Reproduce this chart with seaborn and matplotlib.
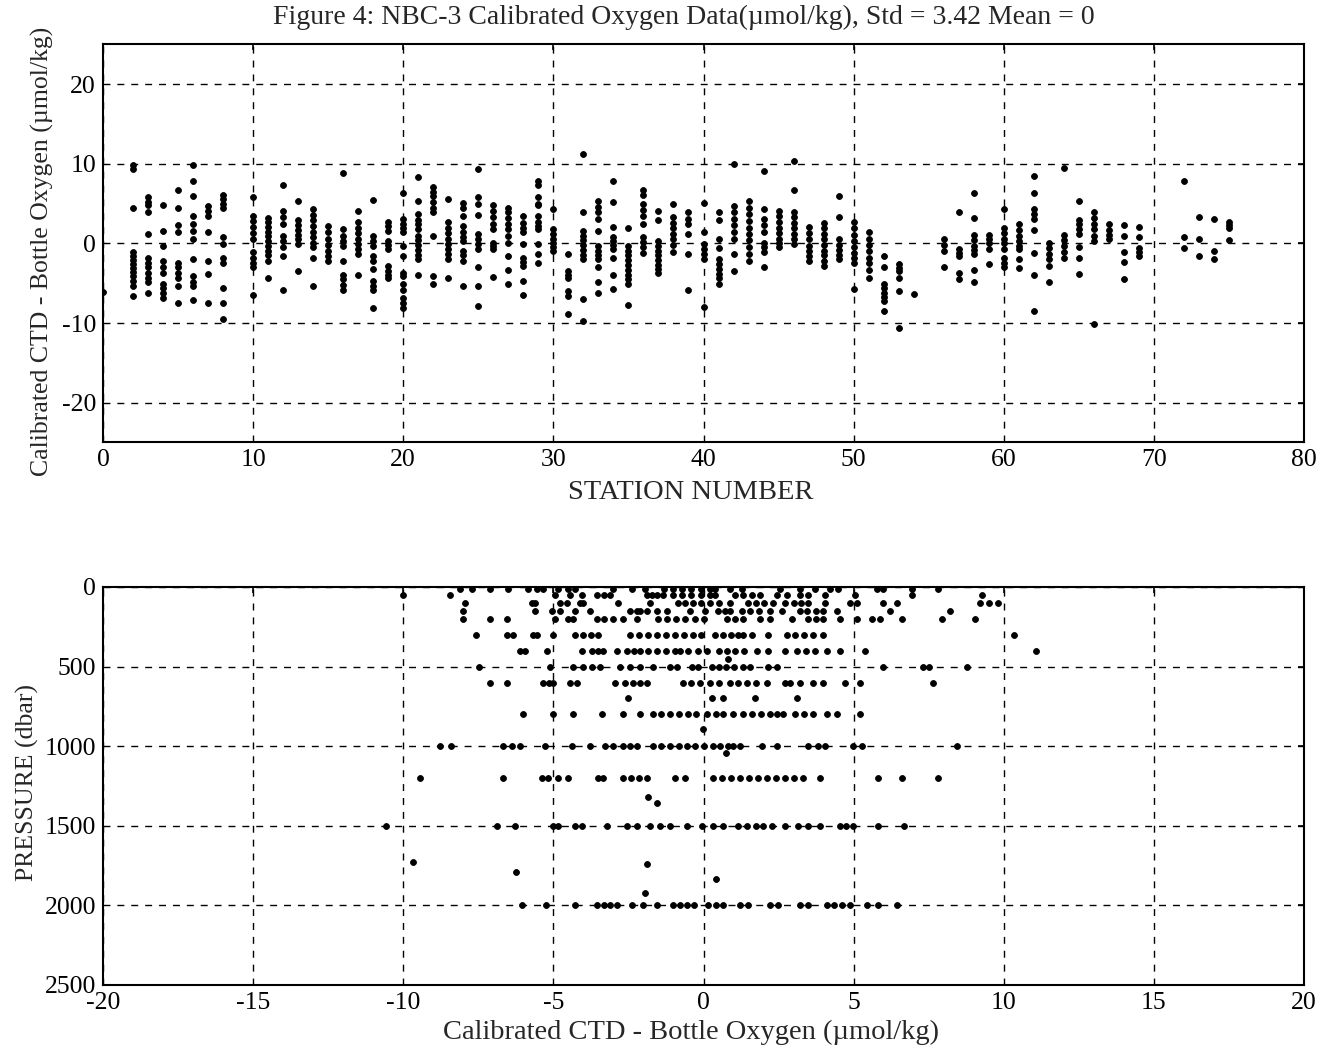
import numpy as np
import pandas as pd
import matplotlib
matplotlib.use("Agg")
import matplotlib.pyplot as plt
import seaborn as sns

# ---------------- data: top panel (station vs CTD - bottle O2) ----------------
station_ids = [0, 2, 3, 4, 5, 6, 7, 8, 10, 11, 12, 13, 14, 15, 16, 17, 18, 19, 20,
               21, 22, 23, 24, 25, 26, 27, 28, 29, 30, 31, 32, 33, 34, 35, 36, 37,
               38, 39, 40, 41, 42, 43, 44, 45, 46, 47, 48, 49, 50, 51, 52, 53, 54,
               56, 57, 58, 59, 60, 61, 62, 63, 64, 65, 66, 67, 68, 69, 72, 73, 74, 75]
station_diffs = [
    [-6.1],
    [9.8, 9.3, 4.5, -1.1, -1.6, -2.1, -2.6, -3.1, -3.6, -4.1, -4.7, -5.3, -6.6],
    [5.8, 5.2, 4.8, 3.9, 1.2, -1.8, -2.4, -3.0, -3.7, -4.3, -4.9, -6.2],
    [4.8, 1.6, -0.3, -2.2, -2.9, -3.7, -5.1, -5.6, -6.2, -6.8],
    [6.7, 4.5, 2.3, 1.4, -2.4, -3.0, -3.7, -4.4, -5.3, -7.5],
    [9.8, 7.9, 5.9, 3.5, 2.5, 1.6, 0.5, -2.0, -4.1, -4.8, -5.3, -7.1],
    [4.7, 4.1, 3.5, 1.5, -2.2, -3.8, -7.5],
    [6.1, 5.6, 5.0, 4.5, 0.8, -0.1, -1.8, -2.4, -5.6, -7.5, -9.5],
    [5.8, 3.5, 2.8, 2.1, 1.3, 0.5, -1.1, -1.8, -2.5, -3.0, -6.5],
    [3.2, 2.7, 2.1, 1.5, 0.9, 0.3, -0.3, -0.9, -1.5, -2.2, -4.3],
    [7.3, 4.1, 3.3, 2.4, 1.0, 0.3, -0.5, -1.6, -5.9],
    [5.3, 2.9, 2.3, 1.7, 1.1, 0.5, -0.1, -3.5],
    [4.3, 3.6, 2.9, 2.2, 1.5, 0.8, 0.1, -0.5, -1.8, -5.3],
    [2.2, 1.4, 0.6, -0.2, -0.9, -1.6, -2.2],
    [8.8, 1.8, 1.0, 0.3, -0.3, -2.2, -3.9, -4.5, -5.2, -5.8],
    [4.1, 2.7, 2.0, 1.3, 0.6, -0.1, -0.7, -1.3, -3.9],
    [5.4, 1.0, 0.3, -0.3, -1.6, -2.2, -3.2, -4.7, -5.3, -5.8, -8.1],
    [2.7, 2.2, 1.6, 0.3, -0.2, -0.7, -2.8, -3.4, -3.9, -4.3],
    [6.4, 3.1, 2.5, 1.9, 1.4, -0.3, -1.6, -3.7, -4.1, -5.1, -5.8, -6.8, -7.5, -8.1],
    [8.3, 5.3, 3.7, 3.0, 2.4, 1.8, 1.0, 0.4, -0.2, -0.8, -1.4, -2.0, -4.0],
    [7.1, 6.5, 5.9, 5.2, 4.5, 3.9, 1.0, -4.1, -5.1],
    [5.6, 2.7, 2.0, 1.3, 0.6, -0.1, -0.7, -1.3, -2.0, -4.3],
    [5.1, 4.5, 3.5, 2.2, 1.4, 0.8, 0.3, -0.9, -1.5, -2.2, -5.3],
    [9.3, 5.8, 5.0, 3.6, 1.2, 0.5, -0.1, -0.7, -2.9, -5.3, -7.9],
    [4.8, 4.1, 3.3, 2.5, 1.8, 0.1, -0.3, -0.7, -4.2],
    [4.5, 3.9, 3.2, 2.5, 1.8, 1.0, 0.0, -1.6, -3.3, -5.1],
    [3.4, 2.6, 2.0, 1.4, -0.1, -1.8, -2.3, -2.8, -4.7, -6.5],
    [7.8, 7.3, 5.8, 5.0, 4.8, 3.5, 2.7, 2.2, 1.8, -0.1, -1.3, -2.4],
    [4.3, 1.8, 1.2, 0.6, 0.0, -0.5, -0.9],
    [-1.3, -3.5, -3.9, -4.3, -6.0, -6.6, -8.8],
    [11.2, 4.0, 1.6, 1.0, 0.4, -0.2, -0.8, -1.4, -2.0, -7.0, -9.8],
    [5.3, 4.6, 3.9, 3.1, 1.6, -0.3, -0.9, -1.5, -2.0, -3.0, -4.9, -6.2],
    [7.8, 5.2, 2.1, 0.8, 0.3, -0.2, -0.7, -1.8, -4.0, -5.7],
    [2.0, -0.3, -0.9, -1.5, -2.1, -2.7, -3.3, -3.9, -4.5, -5.1, -7.7],
    [6.7, 6.1, 5.0, 4.2, 3.4, 2.4, 0.8, 0.2, -0.4, -1.2],
    [4.1, 2.9, 0.3, -0.3, -0.9, -1.5, -2.1, -2.7, -3.2, -3.7],
    [5.0, 3.3, 2.6, 1.9, 1.2, 0.5, -0.2, -1.1],
    [3.9, 3.1, 2.4, 1.2, -1.3, -5.8],
    [5.1, 1.5, -0.1, -0.7, -1.3, -2.0, -8.0],
    [3.9, 2.9, 0.6, -0.6, -2.0, -2.6, -3.2, -3.8, -4.4, -5.1],
    [10.0, 4.7, 3.9, 3.1, 2.3, 1.4, 0.5, -1.3, -3.5],
    [5.3, 4.5, 3.7, 2.8, 2.0, 1.2, 0.4, -0.4, -1.3, -2.2],
    [9.1, 4.3, 3.1, 2.3, 1.4, 0.0, -0.5, -1.1, -3.0],
    [4.1, 3.4, 2.7, 2.0, 1.3, 0.6, 0.0, -0.5],
    [10.4, 6.7, 4.0, 3.3, 2.6, 1.9, 1.2, 0.5, -0.1],
    [2.1, 1.3, 0.5, -0.3, -1.0, -1.6, -2.2],
    [2.6, 1.9, 1.2, 0.5, -0.2, -0.9, -1.5, -2.2, -2.8],
    [6.0, 3.3, 0.5, -0.2, -0.8, -1.4, -2.0],
    [2.7, 1.9, 1.1, 0.3, -0.5, -1.2, -1.8, -2.4, -5.7],
    [1.4, 0.6, -0.2, -1.0, -1.8, -2.5, -3.3, -4.3],
    [-1.6, -2.9, -5.1, -5.6, -6.2, -6.7, -7.2, -8.5],
    [-2.6, -3.1, -3.5, -4.4, -6.0, -10.6],
    [-6.3],
    [0.5, -0.2, -0.9, -2.9],
    [3.9, -0.7, -1.2, -1.6, -3.7, -4.5],
    [6.3, 3.2, 1.1, 0.4, -0.3, -0.8, -1.3, -3.3, -4.9],
    [1.1, 0.6, 0.1, -0.7, -2.6],
    [4.3, 2.0, 1.3, 0.6, 0.0, -0.7, -1.8, -2.4, -3.0],
    [2.4, 1.7, 1.0, 0.3, -0.3, -0.7, -2.0, -3.1],
    [8.5, 6.4, 4.3, 3.7, 3.1, 1.7, -1.2, -4.0, -8.5],
    [0.1, -0.6, -1.3, -2.0, -2.8, -4.8],
    [9.5, 1.1, 0.4, -0.3, -1.1, -1.8],
    [5.3, 3.0, 2.4, 1.8, 1.2, -0.5, -1.8, -3.8],
    [3.9, 3.2, 2.5, 1.8, 1.0, 0.3, -10.1],
    [2.4, 1.7, 1.1, 0.6],
    [2.3, 0.9, -1.1, -2.3, -4.5],
    [2.1, 0.8, -0.6, -1.1, -1.6],
    [7.9, 0.8, -0.6],
    [3.3, 0.5, -1.6],
    [3.1, -0.9, -2.0],
    [2.7, 2.3, 2.0, 0.4],
]

# ---------------- data: bottom panel (CTD - bottle O2 vs pressure) ----------------
press_levels = [10, 50, 100, 150, 200, 300, 400, 450, 500, 600, 700, 800, 890,
                1000, 1045, 1200, 1320, 1355, 1500, 1725, 1740, 1790, 1836, 1924, 2000]
press_diffs = [
    [-8.1, -7.7, -7.1, -6.5, -5.83, -5.55, -5.33, -4.83, -4.5, -4.28, -3.0, -2.39, -1.95,
     -1.3, -1.0, -0.7, -0.4, -0.1, 0.2, 0.38, 0.88, 1.27, 2.55, 3.21, 3.71, 4.21, 4.48,
     5.77, 5.99, 6.93, 7.82],
    [-10.0, -8.44, -4.95, -4.45, -4.06, -3.56, -3.3, -3.11, -1.89, -1.7, -1.56, -1.34,
     -1.0, -0.7, -0.4, -0.1, 0.2, 0.38, 1.05, 1.3, 1.6, 1.88, 2.44, 2.77, 3.21, 3.48,
     4.05, 5.04, 6.93, 9.26],
    [-7.94, -5.7, -5.6, -4.78, -4.56, -4.1, -4.0, -2.84, -1.78, -0.85, -0.6, -0.35, -0.1,
     0.2, 0.5, 0.88, 1.49, 1.75, 2.0, 2.31, 2.71, 3.0, 3.25, 3.48, 4.05, 4.88, 5.1, 5.99,
     6.43, 9.2, 9.5, 9.8],
    [-8.0, -5.6, -5.05, -4.78, -4.28, -3.78, -2.45, -2.2, -2.11, -1.89, -1.56, -1.22,
     -0.45, 0.05, 0.49, 0.7, 0.88, 1.27, 1.55, 1.85, 2.21, 2.6, 3.21, 3.45, 3.75, 3.99,
     4.44, 6.21, 8.21],
    [-8.0, -7.1, -6.55, -4.95, -4.5, -4.34, -3.56, -3.3, -3.0, -2.67, -2.22, -1.5, -1.2,
     -0.9, -0.6, -0.3, 0.0, 0.77, 1.05, 1.33, 1.88, 2.21, 2.94, 3.49, 3.75, 3.99, 4.55,
     5.1, 5.6, 5.88, 6.6, 7.93, 9.04],
    [-7.58, -6.55, -6.33, -5.68, -5.55, -5.0, -4.28, -4.0, -3.75, -3.5, -2.45, -2.15,
     -1.85, -1.55, -1.25, -0.95, -0.65, -0.35, -0.1, 0.38, 0.65, 0.9, 1.15, 1.33, 1.6,
     2.16, 2.77, 3.05, 3.35, 3.65, 3.99, 10.35],
    [-6.1, -5.94, -5.22, -4.06, -3.72, -3.5, -3.34, -2.89, -2.56, -2.3, -2.11, -1.84,
     -1.55, -1.25, -0.95, -0.78, -0.5, -0.2, 0.1, 0.5, 0.77, 1.05, 1.35, 1.77, 2.16,
     2.71, 3.1, 3.4, 3.7, 4.1, 4.55, 5.38, 11.07],
    [0.83],
    [-7.47, -5.11, -4.34, -4.0, -3.7, -3.45, -2.78, -2.45, -2.11, -1.67, -1.12, -0.89,
     -0.39, -0.2, 0.27, 0.5, 0.75, 1.0, 1.33, 1.55, 2.16, 2.44, 5.99, 7.3, 7.5, 8.76],
    [-7.1, -6.55, -5.33, -5.15, -5.0, -4.45, -4.22, -2.95, -2.61, -2.34, -2.11, -1.89,
     -0.68, -0.4, -0.12, 0.22, 0.5, 0.88, 1.16, 1.45, 1.75, 2.1, 2.71, 2.88, 3.21, 3.66,
     3.99, 4.71, 5.21, 7.65],
    [-2.52, 0.27, 0.66, 1.71, 3.1],
    [-6.0, -5.0, -4.34, -3.39, -2.67, -2.11, -1.68, -1.4, -1.1, -0.8, -0.5, -0.25, 0.1,
     0.4, 0.66, 0.99, 1.32, 1.6, 1.9, 2.2, 2.44, 2.66, 3.05, 3.35, 3.66, 4.1, 4.44, 5.21],
    [-0.03],
    [-8.77, -8.42, -6.67, -6.39, -6.11, -5.28, -4.39, -3.78, -3.28, -3.0, -2.68, -2.45,
     -2.22, -1.68, -1.4, -1.1, -0.8, -0.56, -0.3, 0.0, 0.33, 0.55, 0.8, 0.99, 1.22, 1.94,
     2.44, 3.49, 3.8, 4.05, 4.99, 5.27, 8.43],
    [0.75],
    [-9.44, -6.67, -5.39, -5.17, -4.83, -4.5, -3.51, -3.35, -2.68, -2.4, -2.15, -1.89,
     -0.95, -0.62, 0.33, 0.6, 0.9, 1.2, 1.5, 1.8, 2.1, 2.4, 2.7, 3.0, 3.32, 3.88, 5.82,
     6.6, 7.82],
    [-1.84],
    [-1.56],
    [-10.57, -6.89, -6.28, -5.0, -4.83, -4.28, -4.06, -3.22, -2.56, -2.22, -1.78, -1.45,
     -1.12, -0.56, -0.06, 0.3, 0.66, 1.16, 1.45, 1.75, 1.99, 2.27, 2.71, 3.16, 3.48, 3.88,
     4.55, 4.75, 4.99, 5.82, 6.68],
    [-9.68],
    [-1.89],
    [-6.24],
    [0.42],
    [-1.95],
    [-6.05, -5.24, -4.28, -3.56, -3.3, -3.1, -2.89, -2.39, -2.0, -1.56, -1.01, -0.78,
     -0.56, -0.33, 0.16, 0.4, 0.66, 1.22, 1.49, 2.21, 2.49, 3.21, 3.49, 4.1, 4.35, 4.6,
     4.88, 5.43, 5.82, 6.43],
]

title_text = "Figure 4: NBC-3 Calibrated Oxygen Data(\u00b5mol/kg), Std = 3.42 Mean = 0"

# ---------------- build tables ----------------
top_df = pd.DataFrame({
    "station": [s for s, vals in zip(station_ids, station_diffs) for _ in vals],
    "diff": [v for vals in station_diffs for v in vals],
})
bot_df = pd.DataFrame({
    "pressure": [p for p, vals in zip(press_levels, press_diffs) for _ in vals],
    "diff": [v for vals in press_diffs for v in vals],
})

# ---------------- style ----------------
sns.set_style("white")
plt.rcParams["font.family"] = ["Liberation Serif", "DejaVu Serif"]
plt.rcParams["axes.linewidth"] = 1.5
plt.rcParams["axes.unicode_minus"] = False

fig = plt.figure(figsize=(13.25, 10.51), dpi=100)
ax1 = fig.add_axes([0.0777, 0.5790, 0.9065, 0.3787])
ax2 = fig.add_axes([0.0777, 0.0628, 0.9065, 0.3787])

mk = dict(color="black", s=18, edgecolor="black", linewidth=0.6, marker="o", legend=False)
sns.scatterplot(data=top_df, x="station", y="diff", ax=ax1, zorder=3, **mk)
sns.scatterplot(data=bot_df, x="diff", y="pressure", ax=ax2, zorder=3, **mk)

grid_kw = dict(color="black", linestyle=(0, (5, 5)), linewidth=1.0)

ax1.set_xlim(0, 80)
ax1.set_ylim(-25, 25)
ax1.set_xticks(range(0, 81, 10))
ax1.set_yticks([-20, -10, 0, 10, 20])
ax1.set_xlabel("STATION NUMBER", fontsize=20.5)
ax1.set_ylabel("Calibrated CTD - Bottle Oxygen (\u00b5mol/kg)", fontsize=18.5)
ax1.xaxis.set_label_coords(0.489, -0.095)
ax1.yaxis.set_label_coords(-0.041, 0.48)

ax2.set_xlim(-20, 20)
ax2.set_ylim(2500, 0)
ax2.set_xticks(range(-20, 21, 5))
ax2.set_yticks(range(0, 2501, 500))
ax2.set_xlabel("Calibrated CTD - Bottle Oxygen (\u00b5mol/kg)", fontsize=20.5)
ax2.set_ylabel("PRESSURE (dbar)", fontsize=18.5)
ax2.xaxis.set_label_coords(0.49, -0.088)
ax2.yaxis.set_label_coords(-0.053, 0.51)

for ax in (ax1, ax2):
    ax.grid(True, **grid_kw)
    ax.set_axisbelow(True)
    ax.tick_params(axis="both", which="major", direction="in", length=4, width=1.2,
                   labelsize=18.5, colors="black", top=True, right=True, pad=5)
    for sp in ax.spines.values():
        sp.set_color("black")
        sp.set_linewidth(1.5)

fig.text(684 / 1325, 1 - 17 / 1051, title_text, ha="center", va="center", fontsize=20)

fig.savefig("out.png", dpi=100, facecolor="white")
